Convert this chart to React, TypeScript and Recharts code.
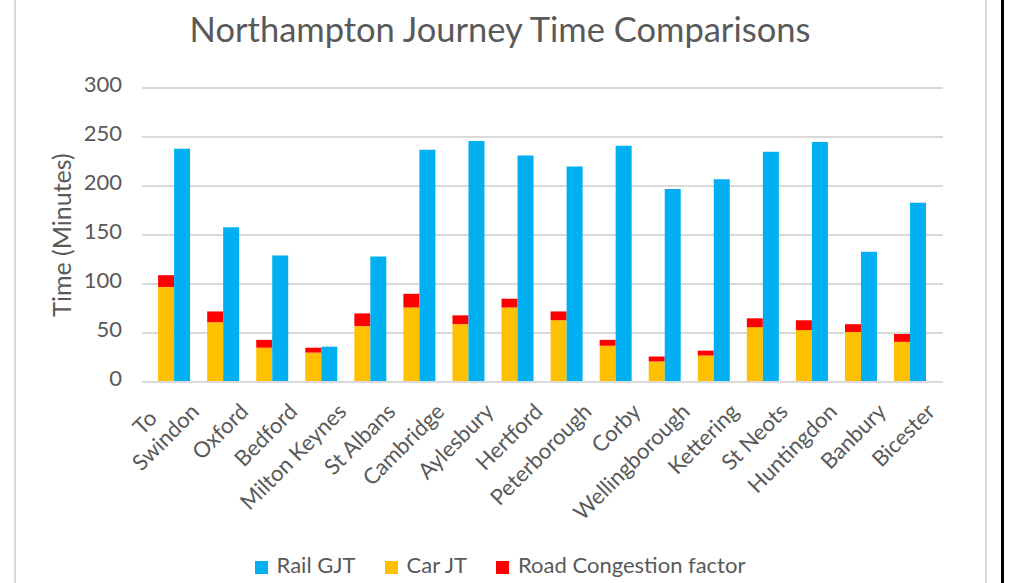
import React from 'react';
import { BarChart, Bar, XAxis, YAxis, CartesianGrid } from 'recharts';

const categories = [
  'To\nSwindon', 'Oxford', 'Bedford', 'Milton Keynes', 'St Albans', 'Cambridge', 'Aylesbury',
  'Hertford', 'Peterborough', 'Corby', 'Wellingborough', 'Kettering', 'St Neots',
  'Huntingdon', 'Banbury', 'Bicester',
];
const carJT = [97, 61, 35, 30, 57, 76, 59, 76, 63, 37, 21, 27, 56, 53, 51, 41];
const congestion = [12, 11, 8, 5, 13, 14, 9, 9, 9, 6, 5, 5, 9, 10, 8, 8];
const railGJT = [238, 158, 129, 36, 128, 237, 246, 231, 220, 241, 197, 207, 235, 245, 133, 183];
const yTicks = [0, 50, 100, 150, 200, 250, 300];

const data = categories.map((name, i) => ({
  name,
  car: carJT[i],
  congestion: congestion[i],
  rail: railGJT[i],
}));

const FONT = 'Lato, "Open Sans", sans-serif';
const TEXT = '#595959';

const legendItems = [
  { name: 'Rail GJT', color: '#00B0F0' },
  { name: 'Car JT', color: '#FFC000' },
  { name: 'Road Congestion factor', color: '#FF0000' },
];

// rotated category labels, Excel style
const XTick = ({ x, y, payload }: any) => {
  const lines = String(payload.value).split('\n');
  const last = lines[lines.length - 1];
  return (
    <g transform={`translate(${x + 26},${y + 31}) rotate(-45)`}>
      <text x={0} y={0} textAnchor="end" fill={TEXT} fontSize={22} fontFamily={FONT}>
        {last}
      </text>
      {lines.length > 1 && (
        <text x={-46} y={-25} textAnchor="middle" fill={TEXT} fontSize={22} fontFamily={FONT}>
          {lines[0]}
        </text>
      )}
    </g>
  );
};

const YTick = ({ x, y, payload }: any) => (
  <text x={x} y={y} dy={4} textAnchor="end" fill={TEXT} fontSize={22} fontFamily={FONT}>
    {payload.value}
  </text>
);

export default function App() {
  return (
    <div style={{ position: 'absolute', left: 0, top: 0, width: 1030, height: 583, background: '#fff', overflow: 'hidden' }}>
      <div style={{ position: 'absolute', left: 14, top: 0, width: 2, height: 583, background: '#D9D9D9' }} />
      <div style={{ position: 'absolute', left: 985, top: 0, width: 2, height: 583, background: '#D9D9D9' }} />
      <div style={{ position: 'absolute', left: 1001, top: 0, width: 3, height: 583, background: '#000' }} />
      <div
        style={{
          position: 'absolute', left: 0, top: 8, width: 1000, textAlign: 'center',
          fontFamily: FONT, fontSize: 34.5, color: TEXT,
        }}
      >
        Northampton Journey Time Comparisons
      </div>
      <div style={{ position: 'absolute', left: 0, top: 0 }}>
        <BarChart
          width={1030}
          height={583}
          data={data}
          margin={{ top: 88, right: 87, left: 0, bottom: 61 }}
          barCategoryGap="16.5%"
          barGap={0}
        >
          <CartesianGrid vertical={false} stroke="#D9D9D9" strokeWidth={2} />
          <XAxis
            dataKey="name"
            interval={0}
            tick={<XTick />}
            tickLine={false}
            tickSize={0}
            tickMargin={0}
            axisLine={{ stroke: '#D9D9D9', strokeWidth: 2 }}
            padding={{ left: 8, right: 8 }}
            height={140}
          />
          <YAxis
            domain={[0, 300]}
            ticks={yTicks}
            tick={<YTick />}
            axisLine={false}
            tickLine={false}
            tickSize={0}
            tickMargin={20}
            width={142}
            label={{
              value: 'Time (Minutes)', angle: -90, position: 'insideLeft', dx: 57,
              style: { fill: TEXT, fontSize: 25, fontFamily: FONT, textAnchor: 'middle' },
            }}
          />
          <Bar dataKey="car" name="Car JT" stackId="a" fill="#FFC000" isAnimationActive={false} />
          <Bar dataKey="congestion" name="Road Congestion factor" stackId="a" fill="#FF0000" isAnimationActive={false} />
          <Bar dataKey="rail" name="Rail GJT" fill="#00B0F0" isAnimationActive={false} />
        </BarChart>
      </div>
      <div
        style={{
          position: 'absolute', left: 0, top: 551, width: 1000, display: 'flex', justifyContent: 'center',
          fontFamily: FONT, fontSize: 22, color: TEXT,
        }}
      >
        {legendItems.map((it, i) => (
          <div key={it.name} style={{ display: 'flex', alignItems: 'center', marginLeft: i === 0 ? 0 : 29 }}>
            <span style={{ width: 13, height: 13, background: it.color, display: 'inline-block', marginRight: 9, marginTop: 5 }} />
            <span>{it.name}</span>
          </div>
        ))}
      </div>
    </div>
  );
}
